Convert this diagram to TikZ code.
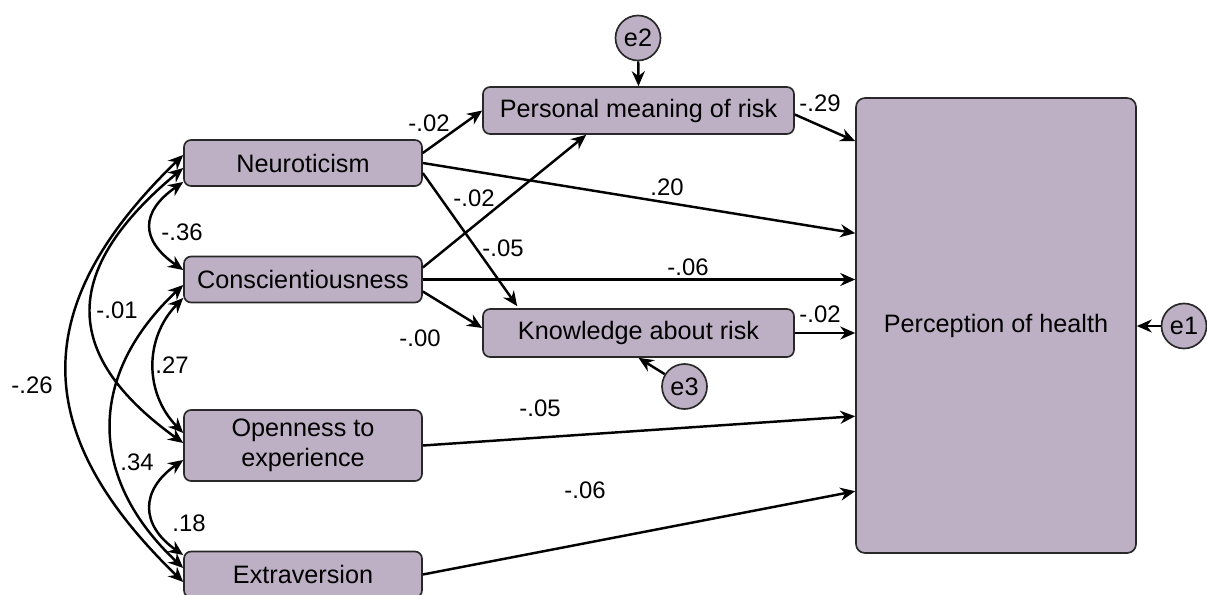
\documentclass[tikz,border=0pt]{standalone}
\usepackage{fontspec}
\setmainfont{Liberation Sans}
\usepackage{tikz}
\usetikzlibrary{arrows.meta, calc}
\definecolor{boxfill}{RGB}{189,176,197}
\definecolor{boxline}{RGB}{40,40,40}
\tikzset{
  var/.style = {rectangle, rounded corners=4pt, draw=boxline, line width=0.95pt,
    fill=boxfill, minimum width=4.76cm, minimum height=0.92cm, inner sep=0pt,
    align=center, font=\fontsize{14.35}{17}\selectfont},
  err/.style = {circle, draw=boxline, line width=0.95pt, fill=boxfill,
    minimum size=0.9cm, inner sep=0pt, font=\fontsize{14.35}{17}\selectfont},
  coef/.style = {inner sep=0pt, font=\fontsize{13.6}{16}\selectfont},
  reg/.style = {line width=1.4pt, -{Stealth[length=8.5pt, width=7.4pt]}},
  cov/.style = {line width=1.4pt, {Stealth[length=8.5pt, width=7.4pt]}-{Stealth[length=8.5pt, width=7.4pt]}}
}

\begin{document}
\begin{tikzpicture}[x=0.02cm, y=-0.02cm]
\useasboundingbox (0,0) rectangle (1207,595);

% traits
\node[var] (neuro) at (303,163) {Neuroticism};
\node[var] (consc) at (303,279.5) {Conscientiousness};
\node[var, minimum height=1.42cm] (open) at (303,445.5) {Openness to\\experience};
\node[var] (extra) at (303,574.5) {Extraversion};

% mediators and outcome
\node[var, minimum width=6.22cm, minimum height=0.94cm] (pers) at (638.5,110.5) {Personal meaning of risk};
\node[var, minimum width=6.22cm, minimum height=0.96cm] (know) at (638.5,333) {Knowledge about risk};
\node[var, rounded corners=5pt, minimum width=5.6cm, minimum height=9.1cm] (perc) at (996,325.5) {Perception of health};

% errors
\node[err] (e1) at (1184,326) {e1};
\node[err] (e2) at (638,38) {e2};
\node[err] (e3) at (684.5,386.5) {e3};

% paths
\draw[reg] ($(neuro.east)+(0,-10)$) -- (pers.west);
\draw[reg] ($(neuro.east)+(0,10)$) -- ($(know.north west)+(35,-2)$);
\draw[reg] (neuro.east) -- ($(perc.north west)+(0,136)$);
\draw[reg] ($(consc.east)+(0,-12)$) -- ($(pers.south west)+(104,0)$);
\draw[reg] ($(consc.east)+(0,12)$) -- ($(know.west)+(0,-5)$);
\draw[reg] (consc.east) -- (consc.east -| perc.west);
\draw[reg] (open.east) -- ($(perc.north west)+(0,319)$);
\draw[reg] (extra.east) -- ($(perc.north west)+(0,394)$);
\draw[reg] ($(pers.east)+(0,4)$) -- ($(perc.north west)+(0,44)$);
\draw[reg] (know.east) -- (know.east -| perc.west);
\draw[reg] (e1) -- (perc.east |- e1.west);
\draw[reg] (e2) -- (pers.north);
\draw[reg] (e3) -- (know.south);

% covariances
\draw[cov] ($(neuro.west)+(0,19)$) .. controls +(-43,30) and +(-43,-30) .. ($(consc.west)+(0,-9.5)$);
\draw[cov] ($(consc.west)+(0,18.5)$) .. controls +(-39,40) and +(-39,-40) .. ($(open.west)+(0,-12.5)$);
\draw[cov] ($(open.west)+(0,14.5)$) .. controls +(-43,30) and +(-43,-30) .. ($(extra.west)+(0,-19.5)$);
\draw[cov] ($(neuro.west)+(0,5)$) .. controls +(-120,100) and +(-125,-90) .. ($(open.west)+(0,-2.5)$);
\draw[cov] ($(consc.west)+(0,5.5)$) .. controls +(-96,90) and +(-96,-90) .. ($(extra.west)+(0,-6.5)$);
\draw[cov] ($(neuro.west)+(0,-8)$) .. controls +(-155,150) and +(-155,-150) .. ($(extra.west)+(0,7.5)$);

% coefficients
\node[coef] (c1) at (429,123) {-.02};
\node[coef] (c2) at (474,198) {-.02};
\node[coef] (c3) at (503,248) {-.05};
\node[coef] (c4) at (667,187) {.20};
\node[coef] (c5) at (688,267) {-.06};
\node[coef] (c6) at (420,338) {-.00};
\node[coef] (c7) at (820,103) {-.29};
\node[coef] (c8) at (820,314) {-.02};
\node[coef] (c9) at (540,408) {-.05};
\node[coef] (c10) at (585,490) {-.06};
\node[coef] (r1) at (182,232) {-.36};
\node[coef] (r2) at (117,310) {-.01};
\node[coef] (r3) at (172,365) {.27};
\node[coef] (r4) at (32,385) {-.26};
\node[coef] (r5) at (137,462) {.34};
\node[coef] (r6) at (189,523) {.18};
\end{tikzpicture}
\end{document}
